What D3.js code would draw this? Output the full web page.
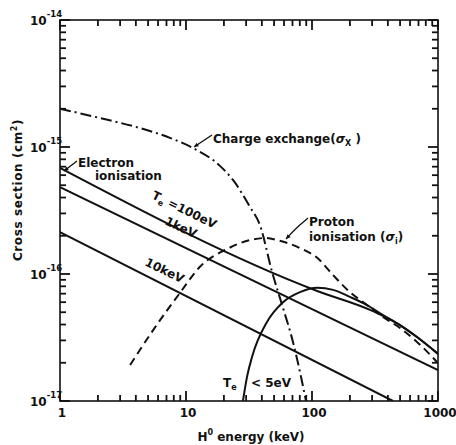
<!DOCTYPE html>
<html>
<head>
<meta charset="utf-8">
<script src="https://cdn.jsdelivr.net/npm/d3@7"></script>
<style>
body { margin: 0; background: #fff; }
text { font-family: "DejaVu Sans", sans-serif; font-weight: bold; fill: #111; }
</style>
</head>
<body>
<svg id="chart" width="456" height="445"></svg>
<script>
// values: H0 energy (keV) -> cross section (cm^2)
const cxEnergy = [1, 2.08, 4.31, 7.46, 11.4, 18.6, 23.6, 32.2, 38.6, 48.2, 58.9, 70.6, 80.3, 89.6]
const cxSigma = [2.0e-15, 1.69e-15, 1.41e-15, 1.18e-15, 9.8e-16, 7.1e-16, 5.5e-16, 3.37e-16, 2.43e-16, 1.04e-16, 5.4e-17, 2.92e-17, 1.69e-17, 1.0e-17]

const protonEnergy = [3.6, 5.47, 8.96, 12.9, 21.1, 32.2, 42.4, 52.8, 80.3, 110, 147, 200, 273, 366, 499, 681, 982]
const protonSigma = [1.92e-17, 3.6e-17, 7.1e-17, 1.14e-16, 1.57e-16, 1.85e-16, 1.92e-16, 1.85e-16, 1.6e-16, 1.34e-16, 9.8e-17, 7.2e-17, 5.7e-17, 4.6e-17, 3.76e-17, 2.92e-17, 2.03e-17]

const cold5Energy = [28.3, 30.5, 33.4, 43.9, 58.9, 80.3, 110, 147, 200, 273, 366, 499, 681, 1000]
const cold5Sigma = [1.0e-17, 1.55e-17, 2.22e-17, 4.19e-17, 6.0e-17, 7.2e-17, 7.8e-17, 7.5e-17, 6.6e-17, 5.7e-17, 4.75e-17, 3.96e-17, 3.19e-17, 2.35e-17]

const te100Energy = [1, 110, 305, 499, 681, 1000]
const te100Sigma = [6.84e-16, 7.35e-17, 5.1e-17, 3.96e-17, 3.19e-17, 2.35e-17]

const te1kEnergy = [1, 1000]
const te1kSigma = [4.84e-16, 1.75e-17]

const te10kEnergy = [1, 439]
const te10kSigma = [2.14e-16, 1.0e-17]

const xMajor = [1, 10, 100, 1000]
const yMajor = [-14, -15, -16, -17]

const svg = d3.select("#chart")
const mLeft = 60, mRight = 438, mTop = 20, mBottom = 401

const x = d3.scaleLog().domain([1, 1000]).range([mLeft, mRight])
const y = d3.scaleLog().domain([1e-17, 1e-14]).range([mBottom, mTop])

const xTicks = d3.range(0, 3).flatMap(e => d3.range(1, 10).map(m => m * Math.pow(10, e))).concat([1000])
const yTicks = d3.range(-17, -14).flatMap(e => d3.range(1, 10).map(m => m * Math.pow(10, e))).concat([1e-14])

const isMajorX = d => xMajor.includes(d)
const isMajorY = d => Math.abs(Math.log10(d) - Math.round(Math.log10(d))) < 1e-6

// clip for the curves
svg.append("clipPath").attr("id", "plot")
    .append("rect").attr("x", mLeft).attr("y", mTop)
    .attr("width", mRight - mLeft).attr("height", mBottom - mTop)

// frame
svg.append("rect").attr("x", mLeft).attr("y", mTop)
    .attr("width", mRight - mLeft).attr("height", mBottom - mTop)
    .attr("fill", "none").attr("stroke", "#111").attr("stroke-width", 1.6)

// inward ticks on all four sides
const ticks = svg.append("g").attr("stroke", "#111").attr("stroke-width", 1.8)
ticks.selectAll(".xb").data(xTicks).join("line").attr("class", "xb")
    .attr("x1", d => x(d)).attr("x2", d => x(d))
    .attr("y1", mBottom).attr("y2", d => mBottom - (isMajorX(d) ? 10 : 6))
ticks.selectAll(".xt").data(xTicks).join("line").attr("class", "xt")
    .attr("x1", d => x(d)).attr("x2", d => x(d))
    .attr("y1", mTop).attr("y2", d => mTop + (isMajorX(d) ? 10 : 6))
ticks.selectAll(".yl").data(yTicks).join("line").attr("class", "yl")
    .attr("y1", d => y(d)).attr("y2", d => y(d))
    .attr("x1", mLeft).attr("x2", d => mLeft + (isMajorY(d) ? 10 : 6))
ticks.selectAll(".yr").data(yTicks).join("line").attr("class", "yr")
    .attr("y1", d => y(d)).attr("y2", d => y(d))
    .attr("x1", mRight).attr("x2", d => mRight - (isMajorY(d) ? 10 : 6))

// x labels
svg.append("g").selectAll("text").data(xMajor).join("text")
    .attr("x", d => x(d) + 2).attr("y", 417).attr("text-anchor", "middle")
    .attr("font-size", 12).text(d => d)

// y labels 10^n
yMajor.forEach(p => {
    const t = svg.append("text").attr("x", 30).attr("y", y(Math.pow(10, p)) + 5).attr("font-size", 12)
    t.append("tspan").text("10")
    t.append("tspan").attr("dy", -8).attr("font-size", 8.5).text(String(p))
})

// axis titles
svg.append("text").attr("x", 251).attr("y", 441).attr("text-anchor", "middle").attr("font-size", 12)
    .call(t => {
        t.append("tspan").text("H")
        t.append("tspan").attr("dy", -6).attr("font-size", 8).text("0")
        t.append("tspan").attr("dy", 6).text(" energy (keV)")
    })

svg.append("text").attr("transform", "translate(22,190) rotate(-90)").attr("text-anchor", "middle")
    .attr("font-size", 12).attr("letter-spacing", 0.6)
    .call(t => {
        t.append("tspan").text("Cross section (cm")
        t.append("tspan").attr("dy", -5).attr("font-size", 8).text("2")
        t.append("tspan").attr("dy", 5).text(")")
    })

// curves
const series = [
    { e: cxEnergy, s: cxSigma, dash: "11,4,2,4" },
    { e: protonEnergy, s: protonSigma, dash: "8,5" },
    { e: cold5Energy, s: cold5Sigma, dash: null },
    { e: te100Energy, s: te100Sigma, dash: null },
    { e: te1kEnergy, s: te1kSigma, dash: null },
    { e: te10kEnergy, s: te10kSigma, dash: null }
]

const line = d3.line().x(d => x(d[0])).y(d => y(d[1])).curve(d3.curveMonotoneX)

svg.append("g").attr("clip-path", "url(#plot)")
    .selectAll("path")
    .data(series)
    .join("path")
    .attr("d", d => line(d.e.map((v, i) => [v, d.s[i]])))
    .attr("fill", "none")
    .attr("stroke", "#111")
    .attr("stroke-width", 2)
    .attr("stroke-dasharray", d => d.dash)

// annotations
function label(txt, px, py, rot) {
    return svg.append("text").attr("transform", `translate(${px},${py}) rotate(${rot || 0})`)
        .attr("font-size", 12).text(txt)
}

label("Electron", 78, 167)
label("ionisation", 95, 180)

const t100 = svg.append("text").attr("transform", "translate(151,198) rotate(26)").attr("font-size", 12)
t100.append("tspan").text("T")
t100.append("tspan").attr("dy", 3).attr("font-size", 8).text("e")
t100.append("tspan").attr("dy", -3).text(" =100eV")

label("1keV", 164, 224, 25)
label("10keV", 144, 265, 26)

const cx = svg.append("text").attr("x", 213).attr("y", 143).attr("font-size", 12)
cx.append("tspan").text("Charge exchange(")
cx.append("tspan").attr("font-style", "italic").text("σ")
cx.append("tspan").attr("dy", 3).attr("font-size", 8).text("X")
cx.append("tspan").attr("dy", -3).text(" )")

label("Proton", 309, 226)
const pi = svg.append("text").attr("x", 309).attr("y", 241).attr("font-size", 12)
pi.append("tspan").text("ionisation (")
pi.append("tspan").attr("font-style", "italic").text("σ")
pi.append("tspan").attr("dy", 3).attr("font-size", 8).text("i")
pi.append("tspan").attr("dy", -3).text(")")

const te5 = svg.append("text").attr("x", 223).attr("y", 387).attr("font-size", 12)
te5.append("tspan").text("T")
te5.append("tspan").attr("dy", 3).attr("font-size", 8).text("e")
svg.append("text").attr("x", 251).attr("y", 387).attr("font-size", 12).text("< 5eV")

// leader arrows
const leaders = [
    [[77, 161], [64, 171]],
    [[212, 135], [194, 147]],
    [[308, 218], [296, 228], [286, 239]]
]
svg.append("g").selectAll("path")
    .data(leaders)
    .join("path")
    .attr("d", d3.line().curve(d3.curveBasis))
    .attr("fill", "none").attr("stroke", "#111").attr("stroke-width", 1.3)

svg.append("g").selectAll("path")
    .data(leaders)
    .join("path")
    .attr("d", d => {
        const p = d[d.length - 1], q = d[d.length - 2]
        const a = Math.atan2(p[1] - q[1], p[0] - q[0])
        const l = 5, w = 0.45
        return `M${p[0]},${p[1]}L${p[0] - l * Math.cos(a - w)},${p[1] - l * Math.sin(a - w)}` +
            `L${p[0] - l * Math.cos(a + w)},${p[1] - l * Math.sin(a + w)}Z`
    })
    .attr("fill", "#111")
</script>
</body>
</html>
